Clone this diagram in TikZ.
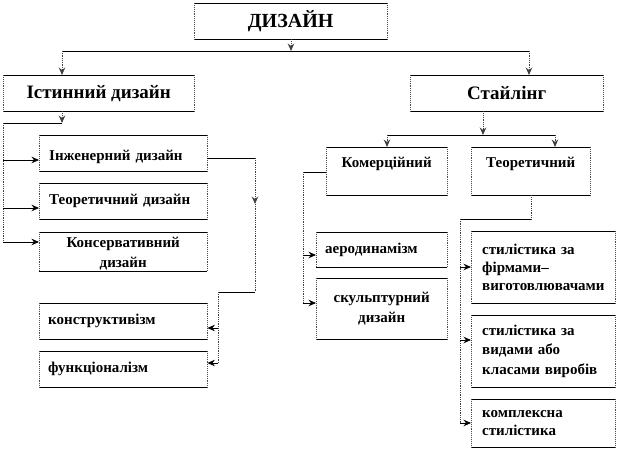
\documentclass[tikz,border=0pt]{standalone}
\usepackage{fontspec}
\setmainfont{Liberation Serif}
\usetikzlibrary{arrows.meta,calc}
\begin{document}
\begin{tikzpicture}[x=1pt,y=-1pt,
  box/.style={rectangle, inner sep=0pt, anchor=north west, font=\bfseries\fontsize{15}{18}\selectfont},
  lbox/.style={box, align=left},
  cbox/.style={box, align=center},
  hl/.style={line width=0.8pt, black},
  vl/.style={line width=0.8pt, densely dotted, black!75},
  hb/.style={line width=0.9pt, black},
  vb/.style={line width=0.9pt, densely dotted, black!70},
  arr/.style={-{Stealth[length=7.5pt,width=6.5pt,inset=2.5pt]}}]
\useasboundingbox (0,0) rectangle (618,450);
\fill[white] (0,0) rectangle (618,450);
% boxes
\node[cbox, minimum width=193pt, minimum height=36pt, font=\bfseries\fontsize{20}{24}\selectfont] (dz) at (194,3) {ДИЗАЙН};
\node[cbox, minimum width=191pt, minimum height=36pt, font=\bfseries\fontsize{19}{23}\selectfont] (ist) at (3,75) {Істинний дизайн};
\node[cbox, minimum width=193pt, minimum height=36pt, font=\bfseries\fontsize{19}{23}\selectfont] (sty) at (410,75) {Стайлінг};
\node[lbox, text width=148pt, inner xsep=10pt, minimum height=36pt] (inz) at (39,135) {\rule{0pt}{18pt}Інженерний дизайн};
\node[lbox, text width=148pt, inner xsep=10pt, minimum height=36pt] (teo) at (39,183) {Теоретичний дизайн};
\node[cbox, text width=168pt, minimum height=39pt, font=\bfseries\fontsize{15}{20}\selectfont] (kon) at (39,232) {\rule{0pt}{14pt}Консервативний\\дизайн};
\node[lbox, text width=150pt, inner xsep=9pt, minimum height=36pt] (kst) at (39,303) {конструктивізм};
\node[lbox, text width=150pt, inner xsep=9pt, minimum height=36pt] (fun) at (39,351) {функціоналізм};
\node[cbox, text width=121pt, minimum height=48pt] (kom) at (326,147) {Комерційний\\\mbox{}};
\node[cbox, text width=119pt, minimum height=48pt] (ter) at (471,147) {Теоретичний\\\mbox{}};
\node[lbox, text width=113pt, inner xsep=9pt, minimum height=35pt] (aer) at (316,232) {аеродинамізм};
\node[cbox, text width=131pt, minimum height=61pt, font=\bfseries\fontsize{15}{20}\selectfont] (sku) at (316,278) {скульптурний\\дизайн};
\node[lbox, text width=122pt, inner xsep=11pt, minimum height=72pt] (s1) at (471,231) {стилістика за\\фірмами–\\виготовлювачами};
\node[lbox, text width=122pt, inner xsep=11pt, minimum height=72pt, font=\bfseries\fontsize{15}{19.5}\selectfont] (s2) at (471,315) {стилістика за\\видами або\\класами виробів};
\node[lbox, text width=122pt, inner xsep=11pt, minimum height=48pt] (s3) at (471,399) {комплексна\\стилістика};
\foreach \n in {dz,ist,sty,inz,teo,kon,kst,fun,kom,ter,aer,sku,s1,s2,s3}{
  \draw[hb] (\n.north west) -- (\n.north east) (\n.south west) -- (\n.south east);
  \draw[vb] (\n.north west) -- (\n.south west) (\n.north east) -- (\n.south east);
}
% top level
\coordinate (a0) at (291,51);
\coordinate (a1) at (62,51);
\coordinate (a2) at (529,51);
\draw[vl,arr] (a0 |- dz.south) -- (a0);
\draw[hl] (a1) -- (a2);
\draw[vl,arr] (a1) -- (a1 |- ist.north);
\draw[vl,arr] (a2) -- (a2 |- sty.north);
% Істинний дизайн
\coordinate (b1) at (62,123);
\coordinate (b2) at (3,123);
\coordinate (b3) at (3,242);
\draw[vl,arr] (b1 |- ist.south) -- (b1);
\draw[hl] (b1) -- (b2);
\draw[vl] (b2) -- (b3);
\coordinate (c1) at (3,160);
\coordinate (c2) at (3,208);
\draw[hl,arr] (c1) -- (c1 -| inz.west);
\draw[hl,arr] (c2) -- (c2 -| teo.west);
\draw[hl,arr] (b3) -- (b3 -| kon.west);
% Інженерний -> конструктивізм, функціоналізм
\coordinate (d1) at (255,158);
\coordinate (dm) at (255,204);
\coordinate (d2) at (255,292);
\coordinate (d3) at (218,292);
\coordinate (d4) at (218,363);
\coordinate (d5) at (218,328);
\draw[hl] (d1 -| inz.east) -- (d1);
\draw[vl,arr] (d1) -- (dm);
\draw[vl] (dm) -- (d2);
\draw[hl] (d2) -- (d3);
\draw[vl] (d3) -- (d4);
\draw[hl,arr] (d5) -- (d5 -| kst.east);
\draw[hl,arr] (d4) -- (d4 -| fun.east);
% Стайлінг
\coordinate (e1) at (483,135);
\coordinate (e2) at (387,135);
\coordinate (e3) at (555,135);
\draw[vl,arr] (e1 |- sty.south) -- (e1);
\draw[hl] (e2) -- (e3);
\draw[vl,arr] (e2) -- (e2 |- kom.north);
\draw[vl,arr] (e3) -- (e3 |- ter.north);
% Комерційний
\coordinate (f1) at (303,172);
\coordinate (f2) at (303,303);
\coordinate (f3) at (303,255);
\draw[hl] (f1 -| kom.west) -- (f1);
\draw[vl] (f1) -- (f2);
\draw[hl,arr] (f3) -- (f3 -| aer.west);
\draw[hl,arr] (f2) -- (f2 -| sku.west);
% Теоретичний
\coordinate (g1) at (531,219);
\coordinate (g2) at (460,219);
\coordinate (g3) at (460,423);
\coordinate (g4) at (460,267);
\coordinate (g5) at (460,340);
\draw[vl] (g1 |- ter.south) -- (g1);
\draw[hl] (g1) -- (g2);
\draw[vl] (g2) -- (g3);
\draw[hl,arr] (g4) -- (g4 -| s1.west);
\draw[hl,arr] (g5) -- (g5 -| s2.west);
\draw[hl,arr] (g3) -- (g3 -| s3.west);
\end{tikzpicture}
\end{document}
